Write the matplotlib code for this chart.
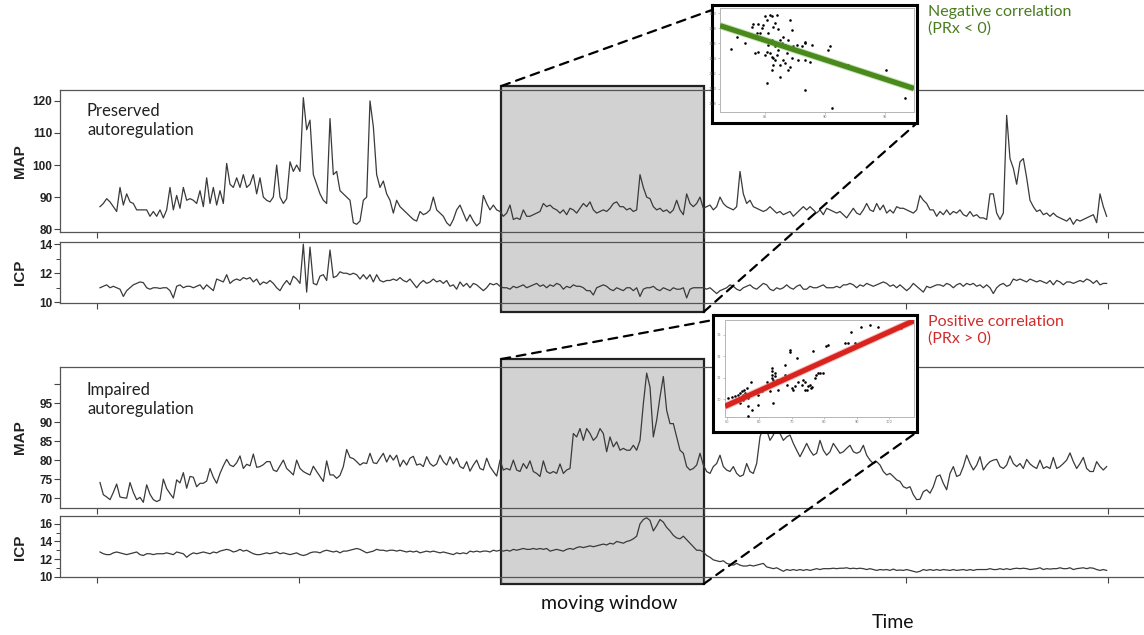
import numpy as np
import matplotlib
matplotlib.use("Agg")
import matplotlib.pyplot as plt
import matplotlib.transforms as mtransforms
import matplotlib.patheffects as pe
from matplotlib.patches import Rectangle, ConnectionPatch
from matplotlib.ticker import MultipleLocator

# ---- data (one sample every ~3.3 px) ----
map_preserved = [
    87, 88, 89.5, 88.5, 87, 85.5, 93, 87.5, 91, 88.5,
    88, 86, 86, 86, 86, 84, 85.5, 84, 86, 83.5,
    86, 93, 86, 90.5, 86.5, 93, 89, 89.5, 89, 88,
    92, 87, 96, 88, 93, 87.5, 92, 88, 100.5, 94,
    93, 96, 93, 97, 93, 94, 97, 91, 96, 90,
    89, 88.5, 90, 100, 90, 88, 89.5, 101, 98, 100,
    98, 121, 111, 114, 97, 94, 91, 89, 88, 114.5,
    97, 98, 92, 91, 90, 89, 82, 81.5, 82.5, 89,
    90, 120, 112, 97, 93, 95, 91, 89, 85, 89,
    87,
    86, 85, 84, 83, 82.5, 85.5, 84.5, 85, 86, 90,
    86, 85, 84, 82, 81, 83, 86, 87.5, 85, 82.5,
    84.5, 82.5, 81, 82, 90.5, 88, 86, 87.5, 86, 85.5,
    84, 85, 87.5, 83, 83.5, 83, 86, 84, 84, 84.5,
    85, 85.5, 88, 87, 87.5, 86.5, 86, 85, 86, 84.5,
    86.5, 86, 85, 86.5, 88, 87, 88.5, 86, 85, 85.5,
    86, 85.5, 86.5, 88, 88.5, 87, 87, 86, 86.5, 85.5,
    86, 97, 93, 90, 89.5, 87, 86, 86.5, 85.5, 86,
    85, 86, 89, 86, 84.5, 91, 88, 87, 88, 90,
    86.5, 87, 87.5, 86, 87, 90, 88, 87, 86.5, 86,
    87, 98, 91, 88, 89, 87, 86.5, 86, 85.5, 86,
    87, 86, 85, 85.5,
    84.5, 85, 85.5, 84, 85, 86, 87, 86, 87, 86,
    85, 86, 84.5, 86.5, 86, 85.5, 85, 85.5, 84.5, 83.5,
    85, 86.5, 85, 84.5, 86, 88, 86, 85.5, 88, 86,
    87.5, 85, 86, 85, 87, 86.5, 86.5, 86, 85.5, 85,
    86, 90.5, 89, 88, 86, 86, 84, 85.5, 84.5, 86,
    84.5, 85.5, 85, 86, 84.5, 84, 85.5, 84, 84.5, 83.5,
    83.5, 83, 91, 91, 85, 83, 85, 115.5, 102, 99,
    94, 101, 102, 96, 89, 87, 85.5, 86, 84.5, 85,
    84, 85, 84, 83.5, 83, 82.5, 83.5, 81.5, 83, 82.5,
    83, 83.5, 84, 84.5, 82, 91, 87, 84,
]

icp_preserved = [
    11.0, 11.1, 11.2, 11.0, 11.1, 11.0, 10.9, 10.4, 10.8, 11.0,
    11.2, 11.3, 11.4, 11.35, 11.0, 10.9, 11.0, 11.0, 10.95, 11.0,
    11.0, 10.8, 10.3, 11.1, 11.2, 11.0, 11.1, 11.1, 11.0, 11.1,
    11.2, 10.9, 11.2, 11.0, 10.8, 11.6, 11.5, 11.4, 11.9, 11.3,
    11.5, 11.6, 11.5, 11.7, 11.6, 11.7, 11.4, 11.6, 11.2, 11.4,
    11.3, 11.5, 11.3, 11.0, 10.8, 11.2, 11.5, 11.2, 11.8, 11.6,
    11.3, 14.0, 10.7, 13.8, 11.3, 11.2, 11.8, 11.9, 11.5, 13.6,
    11.7, 11.8, 12.1, 12.0, 12.0, 11.9, 12.0, 11.9, 11.6, 11.9,
    11.6, 11.9, 11.4, 11.9, 11.5, 11.4, 11.5, 11.5, 11.6, 11.5,
    11.7,
    11.5, 11.4, 11.6, 11.3, 11.0, 11.3, 11.5, 11.3, 11.4, 11.6,
    11.4, 11.5, 11.3, 11.5, 11.1, 11.2, 10.9, 11.4, 11.1, 11.3,
    11.0, 11.3, 11.2, 11.0, 10.8, 11.0, 11.3, 11.2, 11.3, 11.1,
    11.0, 11.0, 10.9, 11.1, 11.0, 11.1, 11.2, 11.0, 11.1, 11.2,
    11.3, 11.1, 11.2, 11.0, 11.2, 11.1, 11.3, 11.2, 10.9, 11.1,
    11.0, 11.2, 11.1, 11.1, 11.0, 10.8, 10.8, 10.5, 11.0, 11.1,
    11.2, 11.1, 10.9, 10.8, 11.0, 10.9, 10.8, 11.0, 11.0, 10.8,
    11.0, 10.4, 10.9, 11.0, 11.0, 11.1, 10.9, 10.8, 11.0, 10.9,
    10.8, 11.0, 10.9, 10.9, 11.0, 10.3, 10.9, 11.0, 11.0, 11.0,
    11.0, 10.9, 11.0, 10.8, 10.6, 10.8, 10.9, 11.0, 11.2, 11.1,
    10.9, 10.8, 11.0, 11.1, 11.2, 11.0, 10.9, 11.1, 11.3, 11.2,
    10.9, 10.8, 11.0, 10.9,
    11.0, 11.2, 11.0, 10.9, 11.1, 11.2, 10.9, 10.9, 11.1, 11.0,
    11.0, 11.1, 11.2, 11.0, 11.0, 11.0, 11.1, 11.0, 11.2, 11.2,
    11.3, 11.2, 11.0, 11.2, 11.1, 11.3, 11.2, 11.1, 11.2, 11.3,
    11.4, 11.3, 11.1, 11.2, 11.0, 11.2, 11.0, 10.8, 11.0, 11.3,
    11.1, 10.9, 10.7, 11.1, 11.0, 11.1, 11.2, 11.2, 11.1, 11.3,
    11.2, 11.0, 11.2, 11.3, 11.1, 11.3, 11.2, 11.3, 11.1, 11.2,
    11.0, 11.2, 11.0, 10.6, 11.0, 11.2, 11.3, 11.1, 11.2, 11.6,
    11.5, 11.6, 11.5, 11.4, 11.6, 11.5, 11.4, 11.5, 11.4, 11.3,
    11.5, 11.2, 11.5, 11.4, 11.2, 11.4, 11.4, 11.3, 11.4, 11.5,
    11.4, 11.6, 11.5, 11.3, 11.5, 11.2, 11.3, 11.3,
]

map_impaired = [
    74.1, 70.9, 70.3, 69.6, 71.5, 73.7, 70.3, 70.1, 70.0, 74.1,
    71.5, 69.6, 70.2, 68.9, 73.5, 71.0, 69.6, 69.1, 69.5, 75.0,
    72.5, 71.2, 70.0, 74.8, 74.0, 76.7, 72.6, 75.7, 75.5, 73.0,
    73.9, 73.9, 74.5, 77.8, 75.5, 73.9, 76.5, 78.5, 80.2, 78.7,
    78.3, 79.3, 81.1, 77.8, 78.9, 78.5, 81.6, 78.1, 78.3, 78.8,
    79.6, 79.6, 77.4, 77.0, 78.5, 80.0, 77.8, 77.0, 76.1, 80.0,
    77.8, 77.0, 76.5, 76.1, 78.4, 77.0, 75.7, 74.4, 79.8, 76.1,
    76.1, 75.2, 76.0, 78.3, 82.8, 80.7, 80.4, 79.6, 78.7, 79.3,
    79.1, 81.8, 79.3, 79.1, 80.5, 81.8, 79.5, 81.3, 80.0, 81.3,
    78.3,
    80.0, 78.7, 80.5, 81.0, 78.7, 79.0, 78.3, 80.9, 79.1, 78.4,
    79.0, 81.3, 79.6, 78.7, 80.9, 79.0, 80.5, 78.3, 77.8, 79.6,
    77.1, 78.7, 80.0, 77.8, 77.4, 80.5, 78.3, 77.0, 75.8, 80.0,
    77.4, 77.8, 77.4, 80.0, 77.4, 77.0, 79.1, 77.8, 79.8, 77.0,
    76.5, 75.7, 79.8, 77.0, 76.5, 77.0, 76.5, 79.0, 76.5, 77.4,
    77.8, 87.0, 86.1, 88.3, 85.2, 88.3, 87.0, 85.2, 86.1, 88.3,
    87.0, 82.2, 86.1, 83.5, 84.8, 82.6, 83.1, 82.6, 82.6, 83.9,
    82.6, 85.2, 94.8, 102.9, 99.2, 86.1, 90.5, 96.6, 102.0, 93.1,
    89.6, 89.6, 86.1, 82.6, 81.8, 78.3, 77.4, 77.8, 78.7, 81.8,
    78.7, 77.0, 76.5, 78.3, 79.1, 81.3, 78.3, 77.4, 77.0, 78.3,
    76.5, 75.7, 76.1, 79.1, 77.0, 76.5, 79.1, 86.1, 88.7, 87.9,
    85.2, 86.6, 88.7, 87.0,
    85.2, 86.1, 86.6, 84.4, 82.6, 80.9, 82.6, 84.4, 82.6, 81.3,
    81.8, 85.2, 82.6, 81.3, 82.2, 84.4, 83.1, 81.8, 82.2, 83.1,
    83.9, 82.2, 81.8, 82.2, 83.9, 81.3, 80.0, 79.1, 79.6, 78.7,
    77.0, 76.1, 76.5, 75.7, 74.8, 74.4, 73.0, 72.6, 73.0, 70.9,
    69.6, 69.7, 71.7, 72.2, 71.3, 73.0, 75.7, 76.1, 73.9, 72.2,
    76.5, 78.3, 75.7, 76.1, 78.3, 81.3, 79.1, 77.4, 78.7, 80.9,
    77.4, 78.7, 79.6, 80.0, 80.2, 78.3, 77.8, 78.7, 81.1, 79.1,
    78.3, 79.1, 77.8, 80.2, 79.0, 78.3, 77.8, 80.0, 77.8, 78.3,
    77.8, 80.7, 77.8, 78.3, 79.1, 80.0, 81.9, 79.6, 77.8, 79.1,
    80.7, 77.8, 77.0, 77.0, 79.6, 78.3, 77.4, 78.3,
]

icp_impaired = [
    12.8, 12.6, 12.5, 12.5, 12.7, 12.8, 12.7, 12.6, 12.5, 12.6,
    12.7, 12.8, 12.5, 12.4, 12.6, 12.6, 12.5, 12.6, 12.6, 12.6,
    12.7, 12.6, 12.5, 12.8, 12.7, 12.6, 12.2, 12.5, 12.7, 12.6,
    12.7, 12.8, 12.7, 12.6, 12.8, 12.7, 12.9, 13.0, 13.1, 13.0,
    12.8, 12.9, 13.1, 12.9, 13.0, 12.8, 12.6, 12.5, 12.5, 12.6,
    12.7, 12.6, 12.7, 12.8, 12.6, 12.7, 12.6, 12.5, 12.6, 12.7,
    12.5, 12.4, 12.5, 12.7, 12.8, 12.8, 12.7, 12.9, 13.0, 12.9,
    12.8, 12.9, 12.7, 12.9, 12.9, 13.0, 13.1, 13.2, 13.1, 12.9,
    12.7, 12.8, 12.9, 13.1, 13.0, 13.0, 12.9, 13.0, 13.0, 12.9,
    13.0,
    12.9, 12.8, 12.9, 12.8, 12.9, 12.7, 12.8, 12.9, 12.8, 12.9,
    12.8, 12.7, 12.8, 12.7, 12.6, 12.5, 12.7, 12.6, 12.7, 12.6,
    12.9, 12.8, 12.9, 12.8, 12.9, 12.9, 12.8, 13.0, 12.9, 13.0,
    12.9, 13.0, 12.9, 13.1, 13.0, 13.1, 13.2, 13.1, 13.1, 13.2,
    13.1, 13.2, 13.1, 13.2, 12.9, 13.0, 13.1, 13.0, 12.9, 13.1,
    13.2, 13.1, 13.3, 13.4, 13.3, 13.4, 13.5, 13.4, 13.5, 13.6,
    13.7, 13.6, 13.8, 13.7, 14.0, 13.9, 13.8, 14.0, 14.1, 14.3,
    14.6, 16.0, 16.5, 16.7, 16.4, 15.2, 15.8, 16.5, 16.2, 15.6,
    15.2, 14.7, 14.4, 14.3, 14.6, 14.2, 13.8, 13.4, 13.0, 13.0,
    12.8, 12.4, 12.2, 11.9, 11.8, 11.7, 11.8, 11.5, 11.4, 11.3,
    11.5, 11.3, 11.2, 11.2, 11.3, 11.2, 11.3, 11.4, 11.5, 11.1,
    11.0, 10.9, 11.0, 10.8,
    10.6, 10.8, 10.7, 10.8, 10.7, 10.8, 10.7, 10.8, 10.7, 10.8,
    10.9, 10.8, 10.9, 10.9, 10.9, 10.95, 10.9, 10.95, 10.95, 11.0,
    10.9, 10.95, 10.9, 10.95, 10.9, 10.8, 10.9, 10.8, 10.7, 10.8,
    10.75, 10.8, 10.7, 10.85, 10.7, 10.75, 10.7, 10.8, 10.7, 10.6,
    10.5, 10.6, 10.8, 10.7, 10.8, 10.7, 10.8, 10.7, 10.8, 10.75,
    10.7, 10.8, 10.7, 10.75, 10.8, 10.7, 10.8, 10.7, 10.8, 10.8,
    10.8, 10.8, 10.9, 10.8, 10.8, 10.9, 10.8, 10.9, 10.8, 10.9,
    10.95, 10.9, 10.95, 10.9, 10.8, 10.85, 10.9, 11.0, 10.8, 10.9,
    10.85, 10.9, 10.9, 11.0, 10.9, 10.9, 11.0, 10.8, 10.9, 10.95,
    11.0, 10.9, 11.0, 10.95, 10.8, 10.7, 10.8, 10.7,
]

# scatter of MAP vs ICP inside the moving window
neg_map = [82.17, 82.64, 83.33, 83.89, 84.03, 84.17, 84.31, 84.44, 84.58, 84.44,
           84.17, 84.72, 84.86, 85.0, 85.14, 85.42, 85.56, 85.97, 85.28, 85.69,
           85.56, 85.14, 85.42, 85.56, 85.69, 85.83, 85.97, 86.11, 86.39, 86.25,
           86.53, 86.67, 86.94, 87.08, 87.22, 86.81, 86.67, 86.94, 87.08, 86.25,
           85.14, 87.36, 87.64, 88.06, 88.33, 88.89, 87.78, 88.33, 88.75, 90.28,
           90.42, 88.33, 90.56, 91.94, 95.14, 96.67, 85.83, 86.11, 84.72, 85.0,
           85.69, 86.53, 87.22, 88.06, 88.33, 87.36, 85.28, 85.83, 86.25, 85.56]
neg_icp = [11.53, 11.69, 11.60, 11.82, 11.86, 11.69, 11.74, 11.86, 11.74, 11.49,
           11.47, 11.80, 11.85, 11.96, 11.91, 11.98, 11.96, 11.98, 11.74, 11.82,
           11.65, 11.49, 11.47, 11.42, 11.40, 11.38, 11.45, 11.51, 11.60, 11.65,
           11.69, 11.58, 11.65, 11.91, 11.78, 11.47, 11.34, 11.25, 11.29, 11.16,
           11.07, 11.56, 11.58, 11.56, 11.60, 11.58, 11.38, 11.38, 11.36, 11.51,
           11.56, 10.98, 10.74, 11.31, 11.25, 10.87, 11.87, 11.79, 11.65, 11.45,
           11.31, 11.38, 11.40, 11.47, 11.62, 11.51, 11.58, 11.56, 11.31, 11.25]
neg_fit = (-0.0515, 16.02)

pos_map = [50.51, 51.54, 52.56, 53.59, 53.07, 54.10, 54.61, 55.12, 55.64, 55.43,
           56.15, 55.12, 54.10, 56.66, 57.68, 56.45, 57.48, 58.71, 59.73, 60.76,
           61.27, 63.32, 63.83, 63.83, 63.83, 63.83, 64.34, 64.86, 64.34, 65.37,
           65.88, 67.42, 67.93, 67.93, 68.44, 68.95, 69.47, 69.47, 69.98, 70.49,
           71.0, 71.52, 72.03, 73.05, 73.57, 74.08, 74.59, 75.10, 75.61, 75.92,
           76.13, 76.64, 77.15, 77.66, 78.18, 78.69, 79.71, 80.74, 81.25, 86.37,
           87.40, 88.42, 89.45, 91.50, 94.06, 96.62, 103.79, 64.86, 62.30, 66.39,
           74.08, 59.73, 56.66]
pos_icp = [10.05, 10.09, 10.15, 10.20, 10.0, 10.28, 10.36, 10.20, 10.28, 10.43,
           10.51, 9.97, 9.81, 9.66, 9.50, 9.22, 10.82, 10.28, 9.73, 10.36,
           10.51, 10.40, 10.98, 11.13, 11.29, 11.44, 10.87, 11.06, 9.81, 10.90,
           10.43, 10.98, 11.13, 11.60, 10.67, 10.98, 12.30, 12.22, 10.51, 10.43,
           10.59, 11.91, 10.82, 10.67, 10.90, 10.43, 10.43, 10.59, 10.67, 10.51,
           10.56, 12.27, 10.98, 11.13, 11.21, 11.21, 11.21, 12.46, 12.53, 12.61,
           12.61, 13.16, 12.61, 13.39, 13.47, 13.39, 13.31, 11.21, 10.82, 10.90,
           10.82, 10.20, 10.05]
pos_fit = (0.0689, 6.25)

W, H = 1144, 635
t = np.arange(len(map_preserved))
time_ticks = np.linspace(-0.9, 302.4, 6)
win_start, win_end = time_ticks[2], time_ticks[3]

fig = plt.figure(figsize=(W / 100, H / 100), dpi=100)


def px_axes(x0, y0, x1, y1, **kw):
    return fig.add_axes([x0 / W, 1 - y1 / H, (x1 - x0) / W, (y1 - y0) / H], **kw)


def fy(y):
    return 1 - y / H


def style_panel(ax, ylim, yticks, ylabels=None, minor=None):
    ax.set_facecolor('none')
    ax.set_xlim(-12, 313.2)
    ax.set_ylim(*ylim)
    ax.set_xticks(time_ticks)
    ax.set_xticklabels([])
    ax.set_yticks(yticks)
    if ylabels is not None:
        ax.set_yticklabels(ylabels)
    if minor:
        ax.yaxis.set_minor_locator(MultipleLocator(minor))
        ax.tick_params(axis='y', which='minor', length=3, width=0.7, color='#444')
    ax.tick_params(axis='both', which='major', direction='out', length=4, width=0.8,
                   color='#444', labelsize=8.5, labelcolor='#222', pad=1.5)
    for lab in ax.get_yticklabels():
        lab.set_family('Liberation Sans')
        lab.set_fontweight('bold')
    ax.spines['right'].set_visible(False)
    for s in ('left', 'top', 'bottom'):
        ax.spines[s].set_color('#555555')
        ax.spines[s].set_linewidth(0.9)


line_kw = dict(color='#3a3a3a', lw=0.9, zorder=3)

ax_map1 = px_axes(60, 90, 1144, 232)
ax_map1.plot(t, map_preserved, **line_kw)
style_panel(ax_map1, (79.1, 123.4), [80, 90, 100, 110, 120])

ax_icp1 = px_axes(60, 242, 1144, 303)
ax_icp1.plot(t, icp_preserved, **line_kw)
style_panel(ax_icp1, (9.95, 14.15), [10, 12, 14], minor=1)

ax_map2 = px_axes(60, 367, 1144, 508)
ax_map2.plot(t, map_impaired, **line_kw)
style_panel(ax_map2, (67.4, 104.5), [70, 75, 80, 85, 90, 95, 100],
            ['70', '75', '80', '85', '90', '95', ''])

ax_icp2 = px_axes(60, 516, 1144, 577)
ax_icp2.plot(t, icp_impaired, **line_kw)
style_panel(ax_icp2, (9.95, 16.9), [10, 12, 14, 16], minor=1)

for ax, lab, yc in [(ax_map1, 'MAP', 161), (ax_icp1, 'ICP', 272),
                    (ax_map2, 'MAP', 437), (ax_icp2, 'ICP', 547)]:
    fig.text(20 / W, fy(yc), lab, rotation=90, ha='center', va='center',
             fontsize=11, family='Liberation Sans', fontweight='bold', color='#222')

# moving windows (drawn under the transparent panels)
for ax, ytop, ybot in [(ax_map1, 86, 312), (ax_map2, 359, 584)]:
    blend = mtransforms.blended_transform_factory(ax.transData, fig.transFigure)
    rect = Rectangle((win_start, fy(ybot)), win_end - win_start, fy(ytop) - fy(ybot),
                     transform=blend, facecolor='#d2d2d2', edgecolor='#222222',
                     lw=1.6, zorder=-1)
    fig.add_artist(rect)


def make_inset(outer_px, inner_px, xs, ys, fit, xlim, ylim, xt, yt, color, halo):
    outer = px_axes(*outer_px, zorder=5)
    outer.set_xticks([])
    outer.set_yticks([])
    outer.set_facecolor('white')
    for s in outer.spines.values():
        s.set_color('black')
        s.set_linewidth(2.2)
    inner = px_axes(*inner_px, zorder=6)
    inner.scatter(xs, ys, s=3.5, color='black', lw=0, zorder=3)
    xx = np.array(xlim)
    inner.plot(xx, fit[0] * xx + fit[1], color=color, lw=3.8, solid_capstyle='butt',
               zorder=4, path_effects=[pe.Stroke(linewidth=5.2, foreground=halo, alpha=0.5),
                                       pe.Normal()])
    inner.set_xlim(*xlim)
    inner.set_ylim(*ylim)
    inner.set_xticks(xt)
    inner.set_yticks(yt)
    inner.tick_params(length=1.5, width=0.4, color='#999999', labelsize=2.5,
                      labelcolor='#777777', pad=1)
    for s in inner.spines.values():
        s.set_color('#b5b5b5')
        s.set_linewidth(0.7)
    return outer


in_top = make_inset((712, 5, 917, 123), (720, 8, 914, 112), neg_map, neg_icp, neg_fit,
                    (81.25, 97.44), (10.69, 12.07), [85, 90, 95],
                    np.arange(10.8, 12.01, 0.2).round(1), '#4a8a1c', '#93c472')
in_bot = make_inset((713, 315, 917, 432), (725, 320, 914, 417), pos_map, pos_icp, pos_fit,
                    (49.49, 107.68), (9.16, 13.70), [50, 60, 70, 80, 90, 100],
                    [10, 11, 12, 13], '#d9231f', '#ee8079')

# dashed connectors from window corners to the insets
for ax, inset, ytop, ybot, yin in [(ax_map1, in_top, 86, 312, 0.958),
                                   (ax_map2, in_bot, 359, 584, 0.957)]:
    blend = mtransforms.blended_transform_factory(ax.transData, fig.transFigure)
    for xyA, xyB in [((win_start, fy(ytop)), (0, yin)), ((win_end, fy(ybot)), (1, 0))]:
        con = ConnectionPatch(xyA=xyA, coordsA=blend, xyB=xyB, coordsB=inset.transAxes,
                              color='black', lw=1.6, linestyle=(0, (4, 3)), zorder=10)
        fig.add_artist(con)

txt = dict(family='Lato', ha='left', va='top', linespacing=1.25)
fig.text(928 / W, fy(5), 'Negative correlation\n(PRx < 0)', fontsize=11.5,
         color='#4a7c1f', **txt)
fig.text(928 / W, fy(315), 'Positive correlation\n(PRx > 0)', fontsize=11.5,
         color='#d02b2b', **txt)
fig.text(87 / W, fy(103), 'Preserved\nautoregulation', fontsize=12, color='#222',
         **txt)
fig.text(87 / W, fy(382), 'Impaired\nautoregulation', fontsize=12, color='#222',
         **txt)
fig.text(609 / W, fy(604), 'moving window', fontsize=14, family='Lato',
         ha='center', va='center', color='#111')
fig.text(893 / W, fy(622), 'Time', fontsize=14, family='Lato',
         ha='center', va='center', color='#111')

fig.savefig('out.png', dpi=100, facecolor='white')
